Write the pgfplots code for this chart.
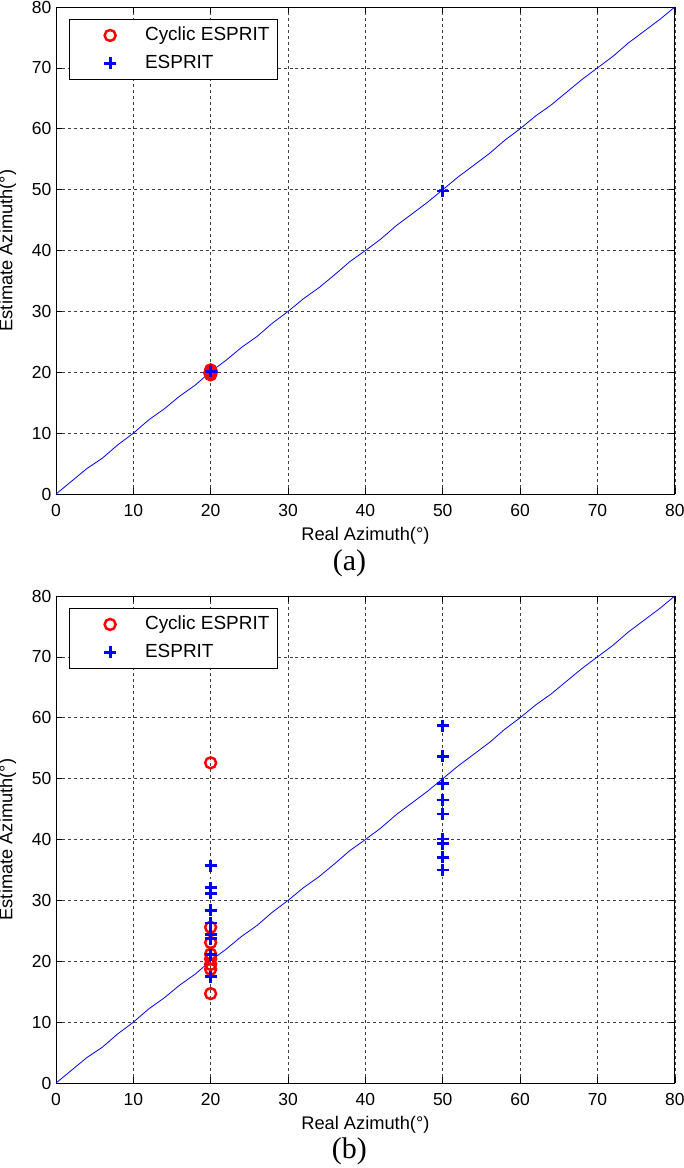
\documentclass[border=0pt]{standalone}
\usepackage{pgfplots}
\pgfplotsset{compat=1.18}
\usepackage{fontspec}
\setmainfont{Liberation Sans}
\newfontfamily\timesfont{Liberation Serif}

\pgfplotstableread{
x y
0 0
2 2.1
4 4.2
6 5.9
8 8.1
10 10.0
12 12.2
14 14.0
16 16.1
18 17.9
20 20.1
22 22.0
24 24.1
26 25.9
28 28.1
30 30.0
32 32.1
34 33.9
36 36.0
38 38.2
40 40.0
42 41.9
44 44.1
46 46.0
48 47.9
50 50.0
52 52.1
54 54.0
56 55.9
58 58.1
60 60.0
62 62.1
64 63.9
66 66.0
68 68.1
70 70.0
72 71.9
74 74.1
76 76.0
78 77.9
80 80.0
}\diagdata

\pgfplotsset{
  myaxis/.style={
    scale only axis,
    width=620pt, height=488pt,
    xmin=0, xmax=80, ymin=0, ymax=80,
    xtick={0,10,...,80}, ytick={0,10,...,80},
    grid=major,
    grid style={dashed, black!75, line width=0.6pt},
    tick align=inside,
    major tick length=6pt,
    axis line style={black, line width=0.8pt},
    every tick/.style={black, line width=0.6pt},
    /pgf/number format/assume math mode=true,
    tick label style={font=\fontsize{17.5}{19}\selectfont},
    xticklabel style={yshift=-7pt},
    yticklabel style={xshift=-1pt},
    label style={font=\fontsize{18.3}{20}\selectfont},
    xlabel={Real Azimuth(°)},
    ylabel={Estimate Azimuth(°)},
    xlabel style={yshift=-3pt},
    ylabel style={yshift=9pt},
    legend style={at={(0.021,0.975)}, anchor=north west, draw=black, fill=white,
      font=\fontsize{19}{21}\selectfont, inner xsep=6pt, inner ysep=2pt,
      row sep=0pt, line width=0.6pt,
      nodes={text height=14pt, text depth=4pt, inner ysep=5pt}},
    legend cell align=left,
    legend image code/.code={\path[draw=none,fill=none] (0pt,0pt) -- (68pt,0pt); \draw[#1] plot coordinates {(35pt,0pt)};},
  },
  circ/.style={only marks, mark=o, mark size=5.5pt, red, mark options={line width=2.5pt}},
  plus/.style={only marks, mark=+, mark size=6pt, blue, mark options={line width=2.8pt}},
}

\begin{document}
\begin{tikzpicture}
\useasboundingbox (-56pt,495pt) rectangle (629pt,-675pt);

\begin{axis}[myaxis, at={(0pt,0pt)}, anchor=south west]
\addplot[circ] coordinates {(20,19.6) (19.9,19.9) (20.1,20.1) (20,20.4) (19.95,20.0)};
\addlegendentry{Cyclic ESPRIT}
\addplot[plus] coordinates {(20,20.2) (50,49.8)};
\addlegendentry{ESPRIT}
\addplot[blue, line width=0.8pt, no marks, forget plot] table {\diagdata};
\end{axis}
\node[font=\timesfont\fontsize{30}{32}\selectfont] at (294pt,-69pt) {(a)};

\begin{axis}[myaxis, at={(0pt,-590pt)}, anchor=south west]
\addplot[circ] coordinates {(20,52.6) (20,25.6) (20,23.1) (20,21.2) (20,20.4) (20,19.5) (20,18.7) (20,14.7)};
\addlegendentry{Cyclic ESPRIT}
\addplot[plus] coordinates {(20,35.7) (20,32.1) (20,31.2) (20,28.4) (20,26.3) (20,24.4) (20,23.7) (20,21.1) (20,17.5)
  (50,58.7) (50,53.7) (50,49.2) (50,46.5) (50,44.2) (50,40.1) (50,39.3) (50,37.1) (50,35.0)};
\addlegendentry{ESPRIT}
\addplot[blue, line width=0.8pt, no marks, forget plot] table {\diagdata};
\end{axis}
\node[font=\timesfont\fontsize{30}{32}\selectfont] at (294pt,-658pt) {(b)};
\end{tikzpicture}
\end{document}
